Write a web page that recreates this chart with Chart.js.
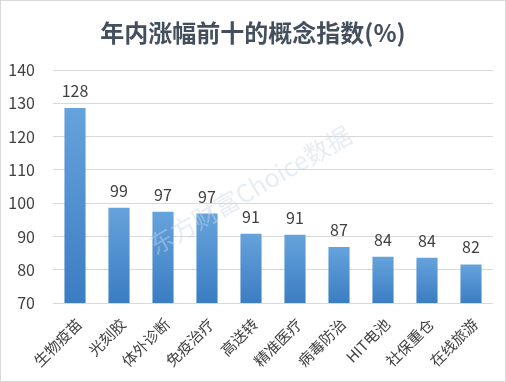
<!DOCTYPE html>
<html>
<head>
<meta charset="utf-8">
<script src="https://cdn.jsdelivr.net/npm/chart.js@4"></script>
<style>
html,body{margin:0;padding:0;background:#fff;}
#wrap{width:506px;height:382px;position:relative;}
</style>
</head>
<body>
<div id="wrap"><canvas id="c" width="506" height="382"></canvas></div>
<script>
const categories = ['生物疫苗','光刻胶','体外诊断','免疫治疗','高送转','精准医疗','病毒防治','HIT电池','社保重仓','在线旅游'];
const values = [128.6, 98.6, 97.4, 96.9, 90.8, 90.5, 86.8, 83.9, 83.6, 81.6];
const valueLabels = ['128','99','97','97','91','91','87','84','84','82'];
const yTicks = [70, 80, 90, 100, 110, 120, 130, 140];
const titleText = '年内涨幅前十的概念指数(%)';
const watermark = '东方财富Choice数据';

const FONT = '"Noto Sans CJK SC", "Noto Sans", sans-serif';

const decor = {
  id: 'decor',
  beforeDraw(chart) {
    const c = chart.ctx;
    c.save();
    c.fillStyle = '#fff';
    c.fillRect(0, 0, chart.width, chart.height);
    c.strokeStyle = '#d9d9d9';
    c.lineWidth = 1;
    c.strokeRect(0.5, 0.5, chart.width - 1, chart.height - 1);
    c.fillStyle = '#444f5e';
    c.font = 'bold 24px ' + FONT;
    c.textAlign = 'center';
    c.textBaseline = 'middle';
    c.fillText(titleText, 253, 33);
    c.restore();
  },
  afterDatasetsDraw(chart) {
    const c = chart.ctx;
    const meta = chart.getDatasetMeta(0);
    c.save();
    c.fillStyle = '#404040';
    c.font = '16px ' + FONT;
    c.textAlign = 'center';
    c.textBaseline = 'bottom';
    meta.data.forEach((el, i) => {
      c.fillText(valueLabels[i], el.x, el.y - 9);
    });
    // watermark
    c.translate(250, 190);
    c.rotate(-30 * Math.PI / 180);
    c.font = '25px ' + FONT;
    c.textAlign = 'center';
    c.textBaseline = 'middle';
    c.fillStyle = 'rgba(200,215,230,0.45)';
    c.fillText(watermark, 0, 0);
    c.restore();
  }
};

new Chart(document.getElementById('c'), {
  type: 'bar',
  data: {
    labels: categories,
    datasets: [{
      data: values,
      barPercentage: 0.48,
      categoryPercentage: 1,
      backgroundColor(ctx) {
        const chart = ctx.chart;
        if (!chart.chartArea || !chart.scales.y) return '#5b9bd5';
        const ys = chart.scales.y;
        const top = ys.getPixelForValue(ctx.raw);
        const bottom = ys.getPixelForValue(yTicks[0]);
        const g = chart.ctx.createLinearGradient(0, top, 0, bottom);
        g.addColorStop(0, '#66a3dc');
        g.addColorStop(1, '#3b7dc3');
        return g;
      }
    }]
  },
  options: {
    responsive: false,
    animation: false,
    layout: { padding: { top: 70, right: 13, left: 0, bottom: 0 } },
    plugins: { legend: { display: false }, tooltip: { enabled: false }, title: { display: false } },
    scales: {
      y: {
        min: yTicks[0], max: yTicks[yTicks.length - 1],
        afterBuildTicks(scale) { scale.ticks = yTicks.map(v => ({ value: v })); },
        afterFit(scale) { scale.width = 53; },
        border: { display: false },
        grid: { color: '#d9d9d9', drawTicks: false },
        ticks: { color: '#404040', font: { size: 16, family: FONT }, padding: 18 }
      },
      x: {
        afterFit(scale) { scale.height = 79; },
        border: { display: false },
        grid: { display: false, drawTicks: false },
        ticks: { color: '#404040', font: { size: 15, family: FONT }, maxRotation: 45, minRotation: 45, padding: 12, labelOffset: 4, autoSkip: false }
      }
    }
  },
  plugins: [decor]
});
</script>
</body>
</html>
